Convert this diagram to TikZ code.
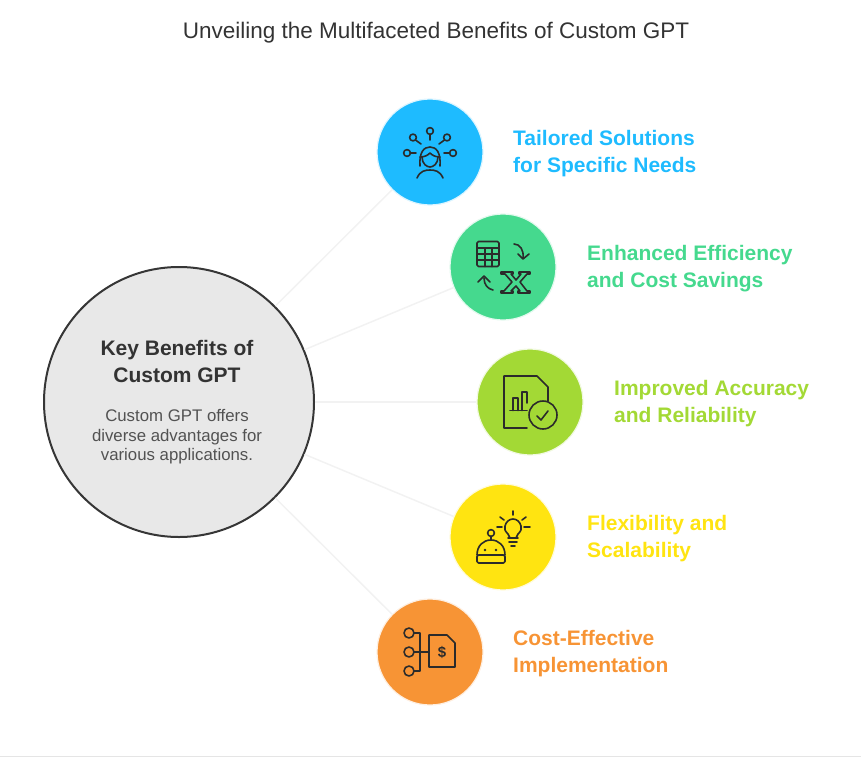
\documentclass[tikz,border=0pt]{standalone}
\usepackage{fontspec}
\setmainfont{Liberation Sans}
\usetikzlibrary{arrows.meta}

\definecolor{c_blue}{HTML}{1EBBFF}
\definecolor{c_green}{HTML}{45D98E}
\definecolor{c_lime}{HTML}{A3D935}
\definecolor{c_yellow}{HTML}{FFE411}
\definecolor{c_orange}{HTML}{F79435}
\definecolor{c_ink}{HTML}{2B2B2B}

\begin{document}
\begin{tikzpicture}[x=1pt,y=-1pt]

\tikzstyle{vertex_main} = [circle, draw=c_ink!95, line width=2pt, fill=black!9, minimum size=270pt, inner sep=0pt]
\tikzstyle{vertex_item} = [circle, line width=1.2pt, minimum size=106pt, inner sep=0pt]
\tikzstyle{label_item} = [anchor=west, align=left, inner sep=0pt, font=\fontsize{21}{27}\selectfont\bfseries]
\tikzstyle{edge} = [draw=black!5, line width=1.5pt]
\tikzstyle{icon} = [draw=c_ink, line width=1.6pt, line cap=round, line join=round]

\useasboundingbox (0,0) rectangle (861,757);
\fill[black!10] (0,755.5) rectangle (861,757);

\node[inner sep=0pt, text=black!80, font=\fontsize{22.5}{26}\selectfont] (title) at (436,32.5) {Unveiling the Multifaceted Benefits of Custom GPT};

%------------------------------------------------------------
	\node[vertex_main] (v_main) at (179,402) {};
	\node[vertex_item, fill=c_blue, draw=c_blue!15] (v_blue) at (430,152) {};
	\node[vertex_item, fill=c_green, draw=c_green!15] (v_green) at (503,267) {};
	\node[vertex_item, fill=c_lime, draw=c_lime!15] (v_lime) at (530,402) {};
	\node[vertex_item, fill=c_yellow, draw=c_yellow!15] (v_yellow) at (503,537) {};
	\node[vertex_item, fill=c_orange, draw=c_orange!15] (v_orange) at (430,652) {};

%------------------------------------------------------------
	\path[edge] (v_main) edge (v_blue);
	\path[edge] (v_main) edge (v_green);
	\path[edge] (v_main) edge (v_lime);
	\path[edge] (v_main) edge (v_yellow);
	\path[edge] (v_main) edge (v_orange);

%------------------------------------------------------------
	\node[align=center, inner sep=0pt, text=black!80, font=\fontsize{21}{27}\selectfont\bfseries] (t_main) at (177,361) {Key Benefits of\\Custom GPT};
	\node[align=center, inner sep=0pt, text=black!68, font=\fontsize{16.8}{19.5}\selectfont] (t_desc) at (177,437) {Custom GPT offers\\diverse advantages for\\various applications.};

	\node[label_item, text=c_blue] (t_blue) at (513,154) {Tailored Solutions\\for Specific Needs};
	\node[label_item, text=c_green] (t_green) at (587,269) {Enhanced Efficiency\\and Cost Savings};
	\node[label_item, text=c_lime] (t_lime) at (614,404) {Improved Accuracy\\and Reliability};
	\node[label_item, text=c_yellow] (t_yellow) at (587,539) {Flexibility and\\Scalability};
	\node[label_item, text=c_orange] (t_orange) at (513,654) {Cost-Effective\\Implementation};

%------------------------------------------------------------
	% person with options
	\begin{scope}[shift={(430,152)}]
		\draw[icon] (0,-21) circle [radius=3.4];
		\draw[icon] (-17,-14.5) circle [radius=3.4];
		\draw[icon] (17,-14.5) circle [radius=3.4];
		\draw[icon] (-23,1) circle [radius=3.4];
		\draw[icon] (23,1) circle [radius=3.4];
		\draw[icon] (0,-17.5) -- (0,-12);
		\draw[icon] (-14.5,-12) -- (-9,-8);
		\draw[icon] (14.5,-12) -- (9,-8);
		\draw[icon] (-19.5,1) -- (-14,1);
		\draw[icon] (19.5,1) -- (14,1);
		\draw[icon] (-10,14) .. controls (-11,0) and (-6,-5) .. (0,-5) .. controls (6,-5) and (11,0) .. (10,14);
		\draw[icon] (-10,5) .. controls (-5,5) and (-2,3) .. (0,1) .. controls (2,3) and (5,5) .. (10,5);
		\draw[icon] (-8,5) .. controls (-8,12) and (-3,15) .. (0,15) .. controls (3,15) and (8,12) .. (8,5);
		\draw[icon] (-13,26) .. controls (-10,19) and (-5,18) .. (0,18) .. controls (5,18) and (10,19) .. (13,26);
	\end{scope}

	% table and x
	\begin{scope}[shift={(503,267)}]
		\draw[icon, rounded corners=1.5pt] (-26,-25.5) rectangle (-4,-0.5);
		\draw[icon] (-26,-19) -- (-4,-19);
		\draw[icon] (-26,-13) -- (-4,-13);
		\draw[icon] (-26,-7) -- (-4,-7);
		\draw[icon] (-18,-19) -- (-18,-0.5);
		\draw[icon] (-11,-19) -- (-11,-0.5);
		\draw[icon] (11,-23) .. controls (17,-23) and (21,-17) .. (20,-9);
		\draw[icon] (15,-13) -- (20,-8) -- (26,-13);
		\draw[icon] (-10,23) .. controls (-15,22) and (-19,18) .. (-19,11);
		\draw[icon] (-25,15) -- (-19,9) -- (-13,15);
		\draw[icon] (-2,5) -- (10,5) -- (10,7) -- (8,7) -- (13,13) -- (18,7) -- (16,7) -- (16,5) -- (27,5) -- (27,7) -- (24,7) -- (17,15) -- (24,24) -- (27,24) -- (27,26) -- (15,26) -- (15,24) -- (17,24) -- (13,19) -- (8,24) -- (10,24) -- (10,26) -- (-2,26) -- (-2,24) -- (1,24) -- (9,15) -- (2,7) -- (-2,7) -- cycle;
	\end{scope}

	% document with bars and check
	\begin{scope}[shift={(530,402)}]
		\draw[icon] (-3,26) -- (-26,26) -- (-26,-26) -- (7,-26) -- (18,-15) -- (18,-1);
		\draw[icon] (13,13) circle [radius=14];
		\draw[icon] (7,14) -- (11,18) -- (18,9);
		\draw[icon] (-20,8.5) -- (-3,8.5);
		\draw[icon] (-17,8.5) -- (-17,-4) -- (-12,-4) -- (-12,8.5);
		\draw[icon] (-8,8.5) -- (-8,-10) -- (-3,-10) -- (-3,1);
	\end{scope}

	% robot and bulb
	\begin{scope}[shift={(503,537)}]
		\draw[icon] (7,1) -- (5,-3) .. controls (2,-6) and (1,-8) .. (2,-11) .. controls (3,-15) and (6,-18) .. (10,-18) .. controls (14,-18) and (17,-15) .. (18,-11) .. controls (19,-8) and (18,-6) .. (15,-3) -- (13,1);
		\draw[icon] (5,1) -- (15,1);
		\draw[icon] (6,5) -- (14,5);
		\draw[icon] (8,9) -- (12,9);
		\draw[icon] (10,-26) -- (10,-22);
		\draw[icon] (-3,-20) -- (1,-17);
		\draw[icon] (23,-20) -- (19,-17);
		\draw[icon] (-6,-10) -- (-1,-10);
		\draw[icon] (21,-10) -- (27,-10);
		\draw[icon] (-12,-4) circle [radius=3.4];
		\draw[icon] (-12,-0.5) -- (-12,3);
		\draw[icon] (-26,18) .. controls (-26,9) and (-20,3) .. (-12,3) .. controls (-4,3) and (2,9) .. (2,18);
		\draw[icon, rounded corners=1.5pt] (-26,18) rectangle (2,26);
		\fill[c_ink] (-18,13) circle [radius=1.4];
		\fill[c_ink] (-7,13) circle [radius=1.4];
	\end{scope}

	% tree and invoice
	\begin{scope}[shift={(430,652)}]
		\draw[icon] (-21,-19) circle [radius=5];
		\draw[icon] (-21,0) circle [radius=5];
		\draw[icon] (-21,19) circle [radius=5];
		\draw[icon] (-16,-19) -- (-10,-19) -- (-10,19) -- (-16,19);
		\draw[icon] (-16,0) -- (-1,0);
		\draw[icon] (-1,-17) -- (17,-17) -- (25,-9) -- (25,15) -- (-1,15) -- cycle;
		\node[inner sep=0pt, text=c_ink, font=\fontsize{15}{15}\selectfont\bfseries] (t_dollar) at (12,0) {\$};
	\end{scope}

\end{tikzpicture}
\end{document}
